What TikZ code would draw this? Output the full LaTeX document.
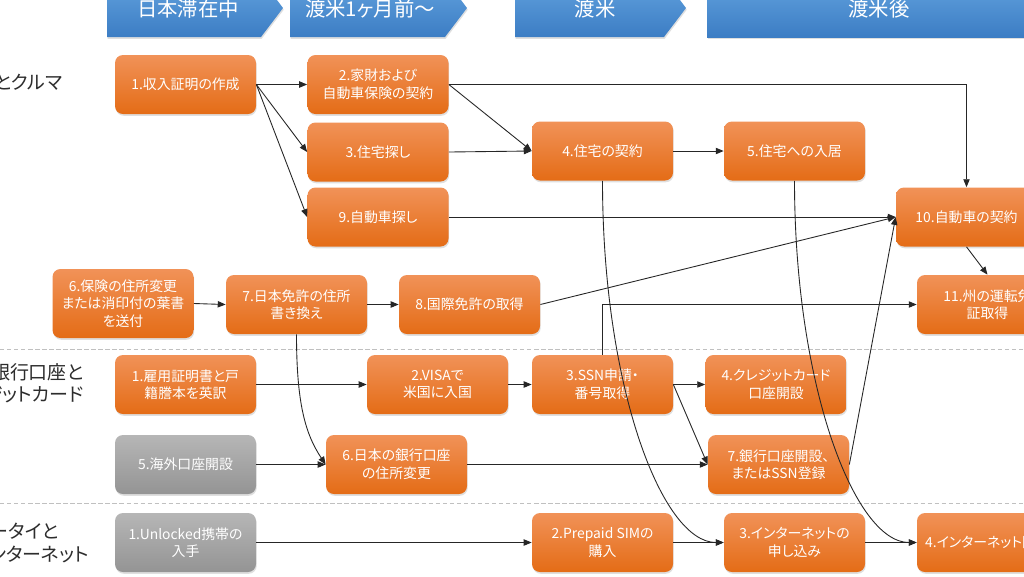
\documentclass[tikz,border=0pt]{standalone}
\usepackage{fontspec}
\setmainfont[RawFeature=+palt]{Noto Sans CJK JP}
\usetikzlibrary{arrows.meta,shadows}
\def\S{0.02}
\def\U{cm}
\definecolor{taskhi}{RGB}{241,146,88}
\definecolor{tasklo}{RGB}{228,108,22}
\definecolor{greyhi}{RGB}{182,182,182}
\definecolor{greylo}{RGB}{148,148,148}
\definecolor{phasehi}{RGB}{98,162,222}
\definecolor{phaselo}{RGB}{60,125,196}
\definecolor{sepcolor}{RGB}{192,192,192}
\definecolor{labelcolor}{RGB}{45,45,45}
\tikzset{
  task/.style={rounded corners=0.16cm, top color=taskhi, bottom color=tasklo,
    text=white, align=center, inner sep=0pt,
    minimum width=141*\S\U, minimum height=59*\S\U,
    font=\fontsize{7.9}{10}\selectfont,
    drop shadow={shadow xshift=0.4pt, shadow yshift=-1pt, opacity=0.25}},
  idle/.style={task, top color=greyhi, bottom color=greylo},
  phase/.style={top color=phasehi, bottom color=phaselo,
    drop shadow={shadow xshift=0.4pt, shadow yshift=-1pt, opacity=0.25}},
  phasetext/.style={text=white, font=\fontsize{11.6}{14}\selectfont},
  rowlabel/.style={text=labelcolor, inner sep=0pt, font=\fontsize{10.8}{12.8}\selectfont},
  sep/.style={draw=sepcolor, line width=0.5pt, dash pattern=on 2.5pt off 1.5pt},
  link/.style={draw=black!85, line width=0.5pt, -{Triangle[length=4.5pt,width=3.6pt]}}
}

\begin{document}
\begin{tikzpicture}[x=\S\U,y=-\S\U]
\useasboundingbox (0,0) rectangle (1024,576);
\clip (0,0) rectangle (1024,576);
\fill[white] (0,0) rectangle (1024,576);
% phase banners, cut by the top edge
\path[phase] (107,-21) -- (261,-21) -- (283,8) -- (261,37) -- (107,37) -- cycle;
\path[phase] (290,-21) -- (445,-21) -- (467,8) -- (445,37) -- (290,37) -- cycle;
\path[phase] (515,-21) -- (664,-21) -- (686,8) -- (664,37) -- (515,37) -- cycle;
\path[phase] (707,-21) rectangle (1060,37);
\node[phasetext] (P1) at (188,9) {日本滞在中};
\node[phasetext] (P2) at (370,9) {渡米1ヶ月前～};
\node[phasetext] (P3) at (595,9) {渡米};
\node[phasetext] (P4) at (879,9) {渡米後};

% lanes, their titles cut by the left edge
\draw[sep] (0,349) -- (1024,349);
\draw[sep] (0,503) -- (1024,503);
\node[rowlabel, anchor=east] (L1) at (63,82) {住居とクルマ};
\node[rowlabel, anchor=east, align=right] (L2) at (84,383) {銀行口座と\\クレジットカード};
\node[rowlabel, anchor=west, align=left] (L3) at (-28,543) {ケータイと\\インターネット};

% housing and car
\node[task] (A1) at (185.5,84.5) {1.収入証明の作成};
\node[task] (A2) at (378,84.5) {2.家財および\\自動車保険の契約};
\node[task] (A3) at (378,152) {3.住宅探し};
\node[task] (A4) at (602.5,151) {4.住宅の契約};
\node[task] (A5) at (794.5,151) {5.住宅への入居};
\node[task, minimum height=69*\S\U] (A6) at (123,303.5) {6.保険の住所変更\\または消印付の葉書\\を送付};
\node[task] (A7) at (296.5,304.5) {7.日本免許の住所\\書き換え};
\node[task] (A8) at (469.5,304.5) {8.国際免許の取得};
\node[task] (A9) at (378,217) {9.自動車探し};
\node[task] (A10) at (966.5,217) {10.自動車の契約};
\node[task] (A11) at (987.5,304.5) {11.州の運転免\\証取得};

% bank account and credit card
\node[task] (B1) at (185.5,384.5) {1.雇用証明書と戸\\籍謄本を英訳};
\node[task] (B2) at (437.5,384.5) {2.VISAで\\米国に入国};
\node[task] (B3) at (602.5,384.5) {3.SSN申請・\\番号取得};
\node[task] (B4) at (776,384.5) {4.クレジットカード\\口座開設};
\node[idle] (B5) at (185.5,464.5) {5.海外口座開設};
\node[task] (B6) at (396.5,464.5) {6.日本の銀行口座\\の住所変更};
\node[task] (B7) at (778.5,464.5) {7.銀行口座開設、\\またはSSN登録};

% phone and internet
\node[idle] (C1) at (185.5,542.5) {1.Unlocked携帯の\\入手};
\node[task] (C2) at (602.5,542.5) {2.Prepaid SIMの\\購入};
\node[task] (C3) at (794.5,542.5) {3.インターネットの\\申し込み};
\node[task] (C4) at (987.5,542.5) {4.インターネット開通};

% dependencies
\foreach \a/\b in {A1/A2, A1/A3, A1/A9, A2/A4, A3/A4, A4/A5, A9/A10, A8/A10,
    A6/A7, A7/A8, B1/B2, B2/B3, B3/B4, B3/B7, B5/B6, B6/B7, B7/A10,
    C1/C2, C2/C3, C3/C4}
  \draw[link] (\a.east) -- (\b.west);
\draw[link] (A2.east) -| (A10.north);
\draw[link] (A10.south) -- (A11.north);
\draw[link] (B3.north) |- (A11.west);
\draw[link] (A4.south) .. controls +(0,205) and +(-62,0) .. (C3.west);
\draw[link] (A5.south) .. controls +(0,205) and +(-62,0) .. (C4.west);
\draw[link] (A7.south) .. controls +(0,70) and +(-20,-30) .. (B6.west);
\end{tikzpicture}
\end{document}
